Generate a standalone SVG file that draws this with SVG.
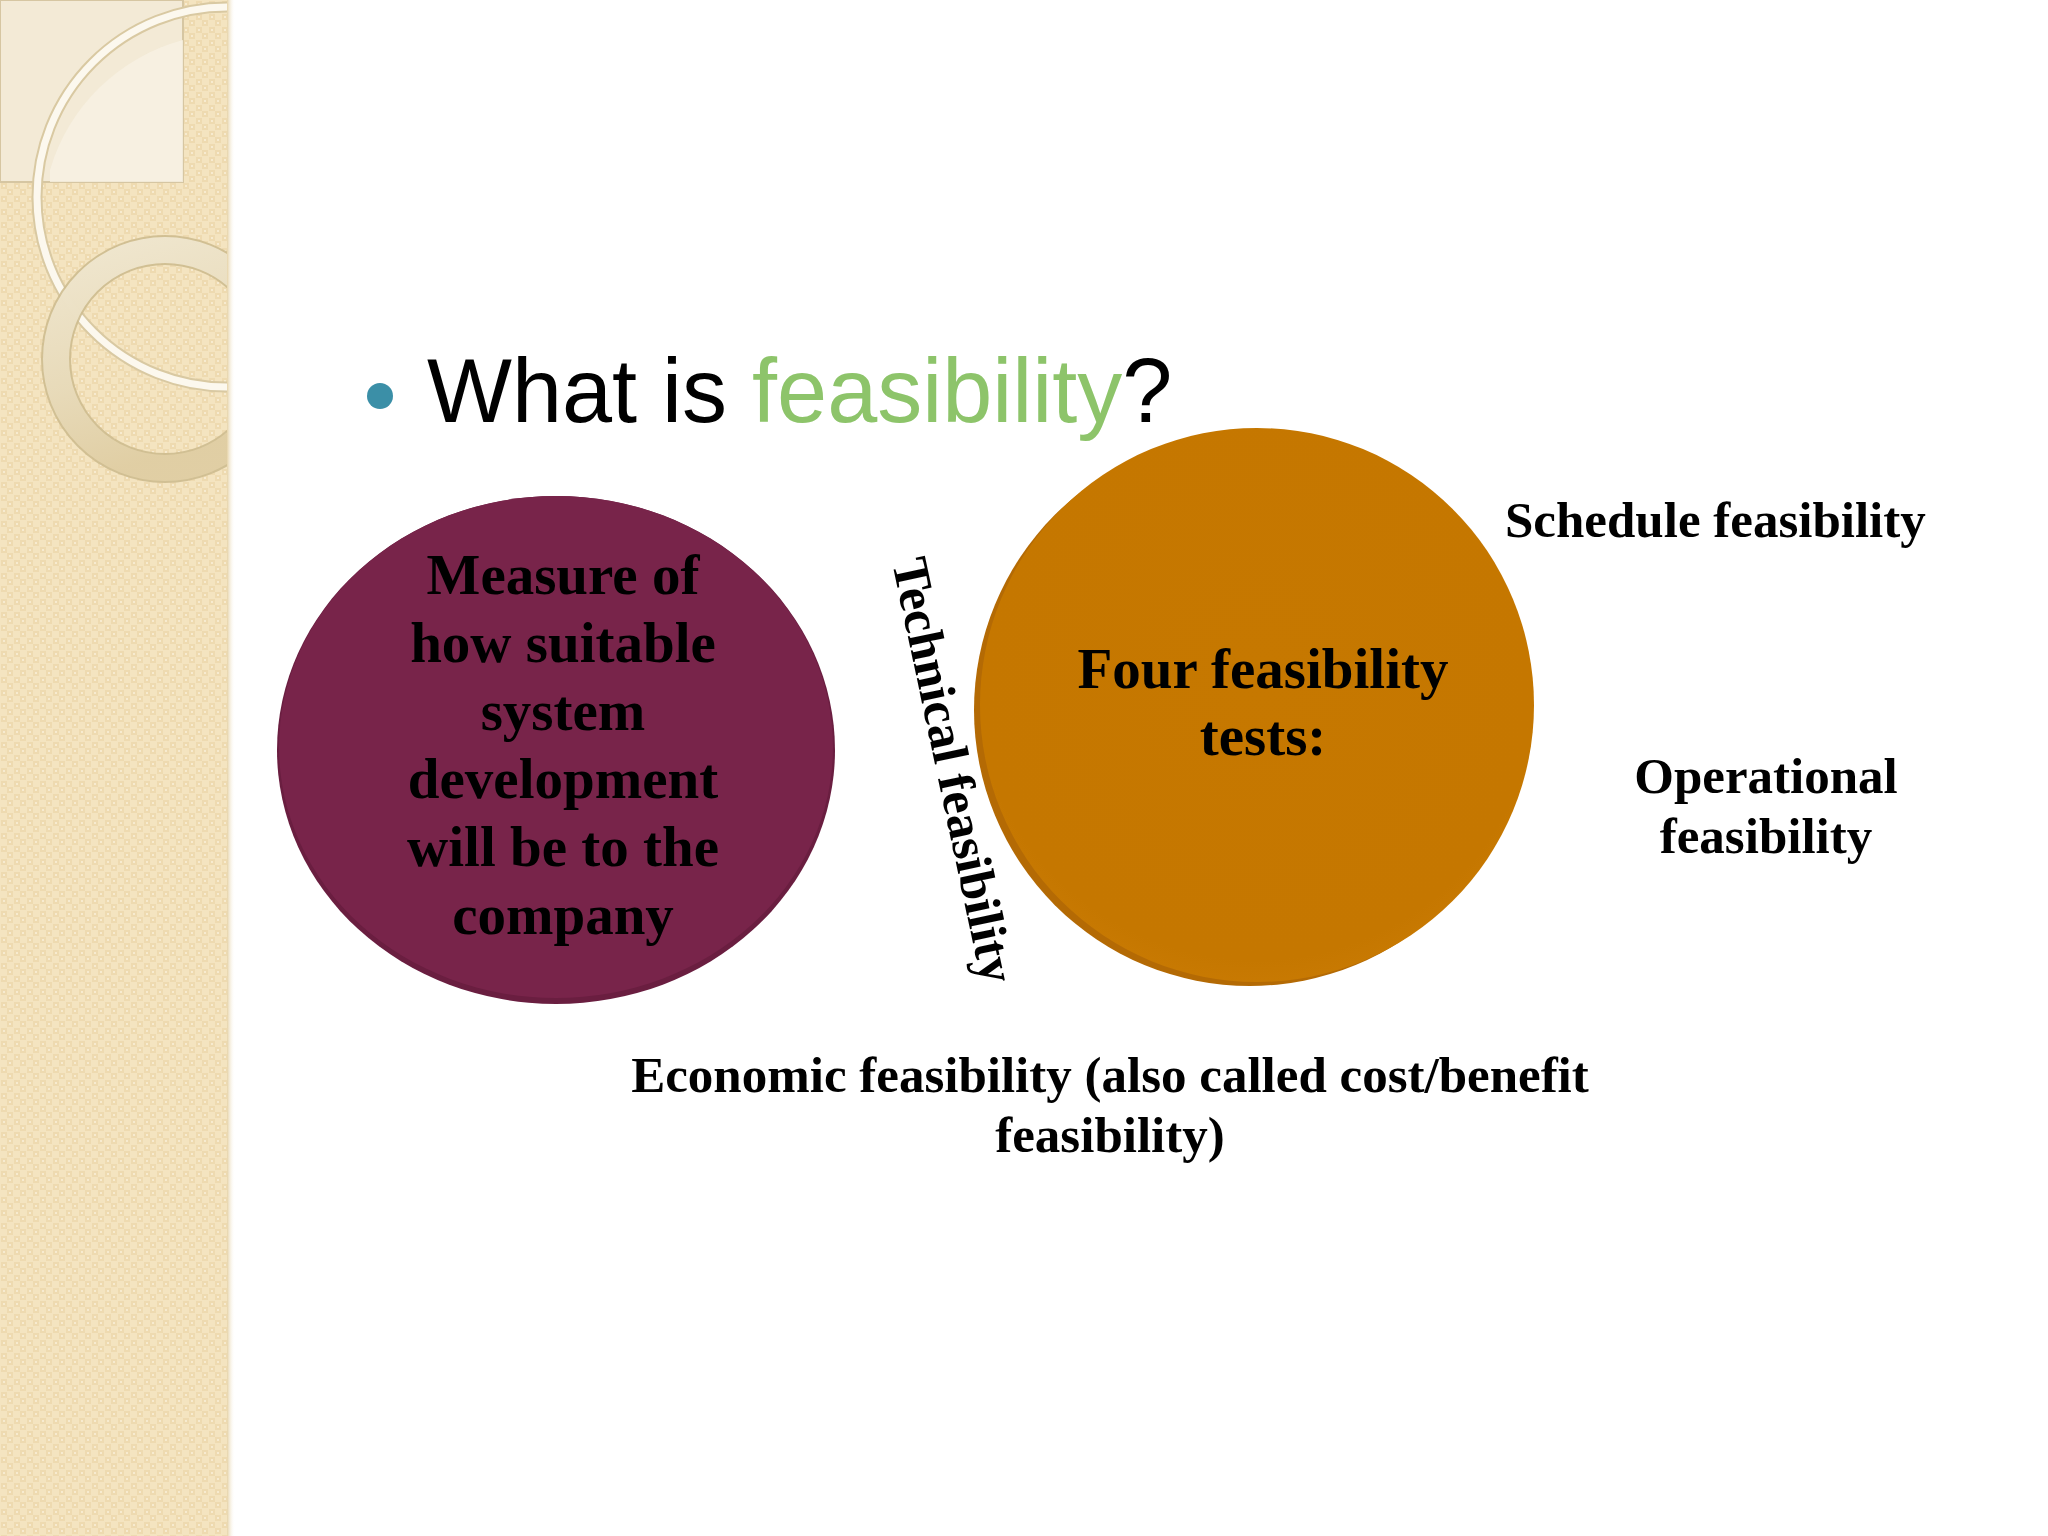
<svg xmlns="http://www.w3.org/2000/svg" width="2048" height="1536" viewBox="0 0 2048 1536">
<defs>
<style>
.tb{font-family:"Liberation Serif","Times New Roman",serif;font-weight:bold;fill:#000}
.lbl{font-size:51px}
.inn{font-size:57px}
.mid{text-anchor:middle}
</style>
<pattern id="weave" x="0" y="0" width="13" height="13" patternUnits="userSpaceOnUse">
<rect width="13" height="13" fill="#F4E4C0"/>
<rect x="1" y="1" width="6" height="6" fill="#EEDAB0"/>
<rect x="7" y="7" width="6" height="6" fill="#EEDAB0"/>
<rect x="3" y="3" width="2" height="2" fill="#F7EBD0"/>
<rect x="9" y="9" width="2" height="2" fill="#F7EBD0"/>
</pattern>
<clipPath id="panelClip"><rect x="0" y="0" width="227" height="1536"/></clipPath>
<linearGradient id="ringGrad" x1="0" y1="0" x2="0.3" y2="1">
<stop offset="0" stop-color="#F3EBD6"/>
<stop offset="0.6" stop-color="#EADDBD"/>
<stop offset="1" stop-color="#E2D0A6"/>
</linearGradient>
<linearGradient id="edgeShade" x1="0" y1="0" x2="1" y2="0">
<stop offset="0" stop-color="#E6D3A8"/>
<stop offset="1" stop-color="#FFFFFF" stop-opacity="0"/>
</linearGradient>
<radialGradient id="orangeGrad" cx="0.5" cy="0.45" r="0.6">
<stop offset="0" stop-color="#C67800"/>
<stop offset="0.85" stop-color="#C57700"/>
<stop offset="1" stop-color="#CB7C05"/>
</radialGradient>
</defs>

<rect x="0" y="0" width="2048" height="1536" fill="#FFFFFF"/>

<g id="side-panel">
<rect x="0" y="0" width="227" height="1536" fill="url(#weave)"/>
<rect x="227" y="0" width="8" height="1536" fill="url(#edgeShade)"/>
<g clip-path="url(#panelClip)">
<path d="M0 0 H183 V182 H0 Z" fill="#F3EAD6" stroke="#D6C6A2" stroke-width="2"/>
<path d="M183 40 A190 190 0 0 0 50 170 L50 182 L183 182 Z" fill="#F7F1E3" opacity="0.8"/>
<circle cx="227" cy="197" r="190" fill="none" stroke="#D9C9A2" stroke-width="11"/>
<circle cx="227" cy="197" r="190" fill="none" stroke="#FCF8EE" stroke-width="7"/>
<circle cx="165" cy="359" r="109" fill="none" stroke="#CDBB8F" stroke-width="30" opacity="0.9"/>
<circle cx="165" cy="359" r="109" fill="none" stroke="url(#ringGrad)" stroke-width="26" opacity="0.9"/>
</g>
</g>

<g id="title">
<circle cx="380" cy="396" r="13" fill="#3B8FA7"/>
<text x="427" y="422" font-family="'Liberation Sans',Arial,sans-serif" font-size="90" fill="#000">What is <tspan fill="#8DC46A">feasibility</tspan>?</text>
</g>

<g id="node-measure">
<ellipse cx="556" cy="750" rx="279" ry="254" fill="#6A1E40"/>
<ellipse cx="556" cy="747" rx="277" ry="251" fill="#78244A"/>
<text class="tb inn mid" x="563" y="594">Measure of</text>
<text class="tb inn mid" x="563" y="662">how suitable</text>
<text class="tb inn mid" x="563" y="730">system</text>
<text class="tb inn mid" x="563" y="798">development</text>
<text class="tb inn mid" x="563" y="866">will be to the</text>
<text class="tb inn mid" x="563" y="934">company</text>
</g>

<g id="node-four-tests">
<ellipse cx="1250" cy="710" rx="276" ry="276" fill="#B46A04"/>
<circle cx="1257" cy="705" r="277" fill="url(#orangeGrad)"/>
<text class="tb inn mid" x="1263" y="688">Four feasibility</text>
<text class="tb inn mid" x="1263" y="755">tests:</text>
</g>

<g id="label-technical">
<text class="tb" font-size="51" transform="translate(892 562) rotate(78)">Technical feasibility</text>
</g>

<g id="label-schedule">
<text class="tb lbl" x="1505" y="537">Schedule feasibility</text>
</g>

<g id="label-operational">
<text class="tb lbl mid" x="1766" y="793">Operational</text>
<text class="tb lbl mid" x="1766" y="853">feasibility</text>
</g>

<g id="label-economic">
<text class="tb lbl mid" x="1110" y="1092">Economic feasibility (also called cost/benefit</text>
<text class="tb lbl mid" x="1110" y="1152">feasibility)</text>
</g>

<g id="connectors"></g>
</svg>
